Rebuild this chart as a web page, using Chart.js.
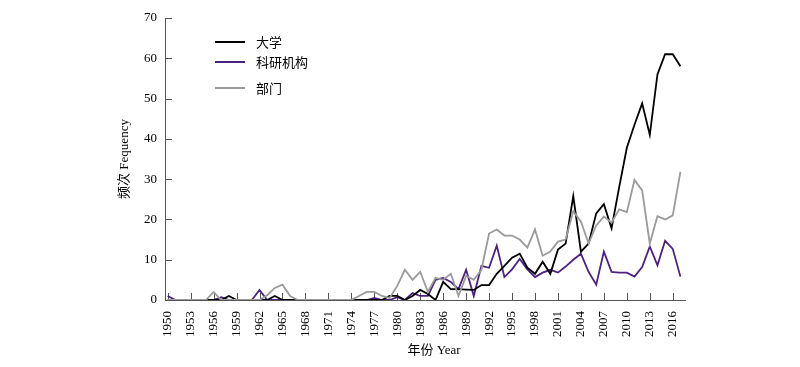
<!DOCTYPE html>
<html>
<head>
<meta charset="utf-8">
<script src="https://cdn.jsdelivr.net/npm/chart.js"></script>
<style>
  body { margin: 0; background: #fff; }
</style>
</head>
<body>
<canvas id="myChart" width="800" height="367"></canvas>
<script>
const years = [1950, 1951, 1952, 1953, 1954, 1955, 1956, 1957, 1958, 1959,
  1960, 1961, 1962, 1963, 1964, 1965, 1966, 1967, 1968, 1969,
  1970, 1971, 1972, 1973, 1974, 1975, 1976, 1977, 1978, 1979,
  1980, 1981, 1982, 1983, 1984, 1985, 1986, 1987, 1988, 1989,
  1990, 1991, 1992, 1993, 1994, 1995, 1996, 1997, 1998, 1999,
  2000, 2001, 2002, 2003, 2004, 2005, 2006, 2007, 2008, 2009,
  2010, 2011, 2012, 2013, 2014, 2015, 2016, 2017];

// 大学
const daxue = [0, 0, 0, 0, 0, 0, 0, 0, 1, 0,
  0, 0, 0, 0, 1, 0, 0, 0, 0, 0,
  0, 0, 0, 0, 0, 0, 0, 0, 0, 1,
  1, 0, 1, 2.5, 1.5, 0, 4.5, 2.7, 2.7, 2.6,
  2.5, 3.7, 3.7, 6.5, 8.5, 10.5, 11.5, 8, 6.5, 9.5,
  6.5, 12.5, 14, 25.8, 12, 14, 21.5, 23.8, 17.8, 28,
  37.8, 43.5, 48.8, 41, 56, 61, 61, 58];

// 科研机构
const keyan = [1, 0, 0, 0, 0, 0, 0, 0.7, 0, 0,
  0, 0, 2.5, 0, 0, 0, 0, 0, 0, 0,
  0, 0, 0, 0, 0, 0, 0, 0.5, 0, 0,
  0.7, 0, 1.7, 1, 1, 5, 5.5, 4.5, 2.7, 7.5,
  1, 8.5, 8, 13.5, 5.7, 7.6, 10.2, 7.6, 5.7, 6.8,
  7.5, 6.8, 8.3, 10, 11.5, 7, 3.8, 12, 7, 6.8,
  6.8, 5.8, 8.2, 13.3, 8.6, 14.7, 12.7, 5.8];

// 部门
const bumen = [0, 0, 0, 0, 0, 0, 2, 0, 0, 0,
  0, 0, 0, 1.2, 3, 3.8, 1, 0, 0, 0,
  0, 0, 0, 0, 0, 1, 2, 2, 1, 0.5,
  3.5, 7.5, 5, 7, 2, 5.5, 5, 6.5, 1, 6,
  5, 7.5, 16.5, 17.5, 16, 16, 15, 13, 17.5, 11,
  12, 14.5, 15, 22, 19.5, 14, 18.5, 20.7, 19.2, 22.5,
  21.8, 29.8, 27.2, 14, 20.8, 20, 21, 31.8];

const seriesNames = ['大学', '科研机构', '部门'];
const seriesColors = ['#000000', '#4a2380', '#9a9a9a'];
const xTickYears = [1950, 1953, 1956, 1959, 1962, 1965, 1968, 1971, 1974, 1977, 1980,
  1983, 1986, 1989, 1992, 1995, 1998, 2001, 2004, 2007, 2010, 2013, 2016];
const xTitle = '年份 Year';
const yTitle = '频次 Fequency';

const serif = "'Liberation Serif', 'Noto Sans CJK SC', serif";
const axisColor = '#555555';

function points(values) {
  return years.map((yr, i) => ({ x: yr, y: values[i] }));
}

// tick marks pointing into the plot
const innerTicks = {
  id: 'innerTicks',
  beforeDatasetsDraw(chart) {
    const c = chart.ctx, xs = chart.scales.x, ys = chart.scales.y, a = chart.chartArea;
    c.save();
    c.strokeStyle = axisColor;
    c.lineWidth = 1;
    c.beginPath();
    xs.ticks.forEach(t => {
      const px = Math.round(xs.getPixelForValue(t.value)) + 0.5;
      c.moveTo(px, a.bottom);
      c.lineTo(px, a.bottom - 7);
    });
    ys.ticks.forEach(t => {
      const py = Math.round(ys.getPixelForValue(t.value)) + 0.5;
      c.moveTo(a.left, py);
      c.lineTo(a.left + 7, py);
    });
    c.stroke();
    c.restore();
  }
};

// legend inside the plot (top left) and the x axis title, a bit right of centre
const legendInside = {
  id: 'legendInside',
  afterDraw(chart) {
    const c = chart.ctx;
    const rows = [42, 62, 88];
    seriesNames.forEach((name, i) => {
      c.save();
      c.strokeStyle = seriesColors[i];
      c.lineWidth = 2;
      c.beginPath();
      c.moveTo(215, rows[i]);
      c.lineTo(245, rows[i]);
      c.stroke();
      c.fillStyle = '#000';
      c.font = "13px 'Noto Sans CJK SC'";
      c.textBaseline = 'middle';
      c.fillText(name, 256, rows[i]);
      c.restore();
    });
    c.save();
    c.fillStyle = '#000';
    c.font = '13px ' + serif;
    c.textAlign = 'center';
    c.textBaseline = 'middle';
    c.fillText(xTitle, 434, 351);
    c.restore();
  }
};

const ctx = document.getElementById('myChart');
const chart = new Chart(ctx, {
  type: 'line',
  data: {
    datasets: [
      { label: seriesNames[0], data: points(daxue), borderColor: seriesColors[0], order: 1 },
      { label: seriesNames[1], data: points(keyan), borderColor: seriesColors[1], order: 2 },
      { label: seriesNames[2], data: points(bumen), borderColor: seriesColors[2], order: 0 }
    ]
  },
  options: {
    responsive: false,
    animation: false,
    layout: { padding: { left: 110, right: 115, top: 18, bottom: 0 } },
    elements: {
      line: { borderWidth: 1.8, tension: 0, fill: false },
      point: { radius: 0 }
    },
    plugins: {
      legend: { display: false },
      tooltip: { enabled: false }
    },
    scales: {
      x: {
        type: 'linear',
        min: 1949.65,
        max: 2017.6,
        afterBuildTicks: (scale) => { scale.ticks = xTickYears.map(v => ({ value: v })); },
        afterFit: (scale) => { scale.height = 67; },
        ticks: {
          autoSkip: false,
          minRotation: 90,
          maxRotation: 90,
          padding: 11,
          color: '#000',
          font: { family: serif, size: 13 },
          callback: (v) => String(v)
        },
        grid: { drawOnChartArea: false, drawTicks: false },
        border: { color: axisColor, width: 1 }
      },
      y: {
        min: 0,
        max: 70,
        afterFit: (scale) => { scale.width = 55; },
        ticks: {
          stepSize: 10,
          padding: 8,
          color: '#000',
          font: { family: serif, size: 13 }
        },
        grid: { drawOnChartArea: false, drawTicks: false },
        border: { color: axisColor, width: 1 },
        title: {
          display: true,
          text: yTitle,
          color: '#000',
          font: { family: serif, size: 13 },
          padding: { top: 7, bottom: 0 }
        }
      }
    }
  },
  plugins: [innerTicks, legendInside]
});
</script>
</body>
</html>
